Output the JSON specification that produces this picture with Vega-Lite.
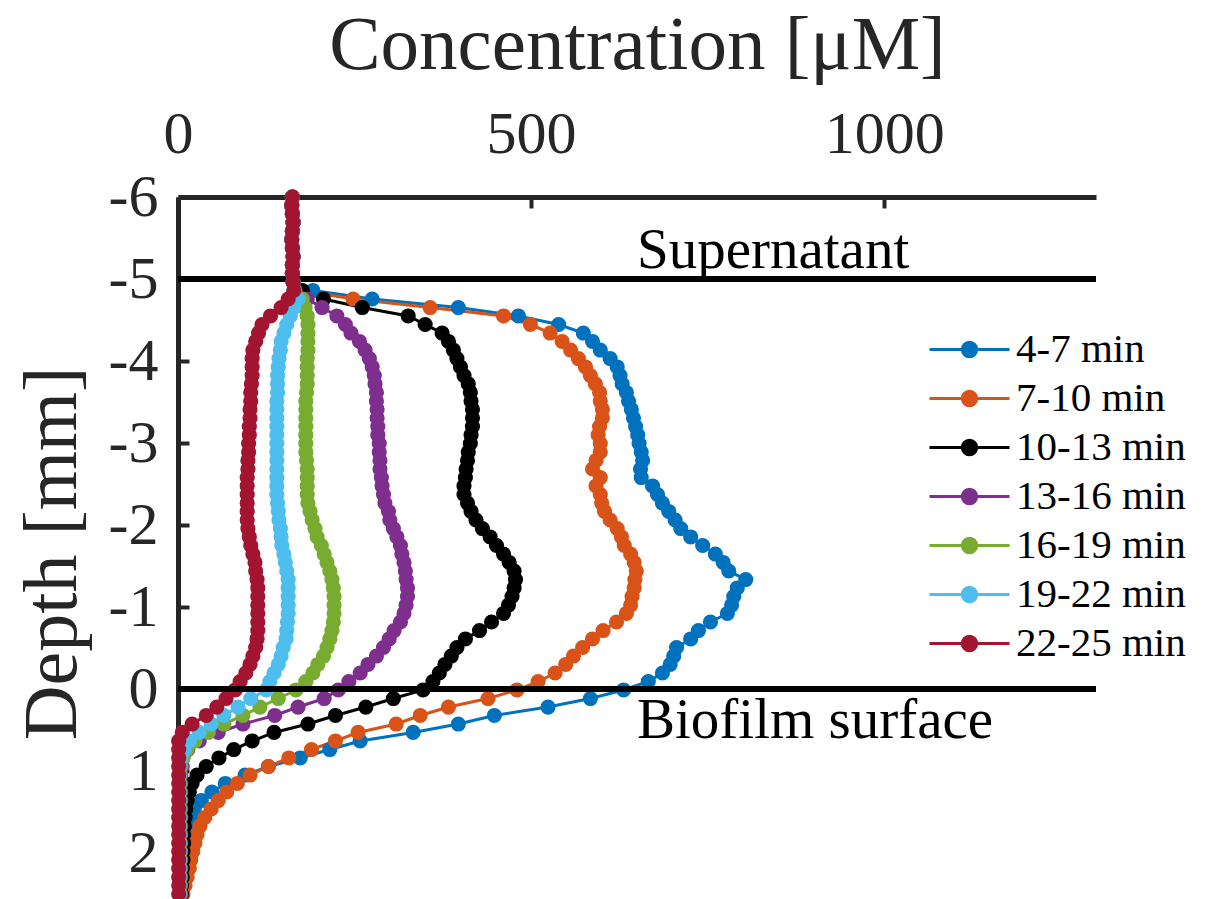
{
  "$schema": "https://vega.github.io/schema/vega-lite/v6.json",
  "width": 918,
  "height": 697,
  "autosize": "none",
  "padding": {"left": 178, "top": 197, "right": 109, "bottom": 5},
  "config": {"view": {"stroke": null}, "font": "Liberation Serif"},
  "data": {"values": [
    {"time":"4-7 min","depth":-6,"conc":162},{"time":"4-7 min","depth":-5.896,"conc":161},{"time":"4-7 min","depth":-5.793,"conc":162},{"time":"4-7 min","depth":-5.689,"conc":163},{"time":"4-7 min","depth":-5.585,"conc":162},{"time":"4-7 min","depth":-5.482,"conc":161},{"time":"4-7 min","depth":-5.378,"conc":162},{"time":"4-7 min","depth":-5.274,"conc":163},{"time":"4-7 min","depth":-5.171,"conc":162},{"time":"4-7 min","depth":-5.067,"conc":162},{"time":"4-7 min","depth":-4.963,"conc":163},{"time":"4-7 min","depth":-4.86,"conc":191},{"time":"4-7 min","depth":-4.756,"conc":275},{"time":"4-7 min","depth":-4.652,"conc":397},{"time":"4-7 min","depth":-4.549,"conc":482},{"time":"4-7 min","depth":-4.445,"conc":539},{"time":"4-7 min","depth":-4.341,"conc":574},{"time":"4-7 min","depth":-4.238,"conc":587},{"time":"4-7 min","depth":-4.134,"conc":598},{"time":"4-7 min","depth":-4.03,"conc":612},{"time":"4-7 min","depth":-3.927,"conc":622},{"time":"4-7 min","depth":-3.823,"conc":626},{"time":"4-7 min","depth":-3.72,"conc":629},{"time":"4-7 min","depth":-3.616,"conc":635},{"time":"4-7 min","depth":-3.512,"conc":638},{"time":"4-7 min","depth":-3.409,"conc":642},{"time":"4-7 min","depth":-3.305,"conc":645},{"time":"4-7 min","depth":-3.201,"conc":648},{"time":"4-7 min","depth":-3.098,"conc":651},{"time":"4-7 min","depth":-2.994,"conc":653},{"time":"4-7 min","depth":-2.89,"conc":656},{"time":"4-7 min","depth":-2.787,"conc":658},{"time":"4-7 min","depth":-2.683,"conc":655},{"time":"4-7 min","depth":-2.579,"conc":656},{"time":"4-7 min","depth":-2.476,"conc":672},{"time":"4-7 min","depth":-2.372,"conc":679},{"time":"4-7 min","depth":-2.268,"conc":686},{"time":"4-7 min","depth":-2.165,"conc":695},{"time":"4-7 min","depth":-2.061,"conc":704},{"time":"4-7 min","depth":-1.957,"conc":712},{"time":"4-7 min","depth":-1.854,"conc":726},{"time":"4-7 min","depth":-1.75,"conc":743},{"time":"4-7 min","depth":-1.646,"conc":761},{"time":"4-7 min","depth":-1.543,"conc":772},{"time":"4-7 min","depth":-1.439,"conc":780},{"time":"4-7 min","depth":-1.335,"conc":804},{"time":"4-7 min","depth":-1.232,"conc":792},{"time":"4-7 min","depth":-1.128,"conc":787},{"time":"4-7 min","depth":-1.024,"conc":784},{"time":"4-7 min","depth":-0.921,"conc":778},{"time":"4-7 min","depth":-0.817,"conc":754},{"time":"4-7 min","depth":-0.713,"conc":737},{"time":"4-7 min","depth":-0.61,"conc":726},{"time":"4-7 min","depth":-0.506,"conc":706},{"time":"4-7 min","depth":-0.402,"conc":702},{"time":"4-7 min","depth":-0.299,"conc":697},{"time":"4-7 min","depth":-0.195,"conc":686},{"time":"4-7 min","depth":-0.091,"conc":666},{"time":"4-7 min","depth":0.012,"conc":631},{"time":"4-7 min","depth":0.116,"conc":584},{"time":"4-7 min","depth":0.22,"conc":524},{"time":"4-7 min","depth":0.323,"conc":448},{"time":"4-7 min","depth":0.427,"conc":397},{"time":"4-7 min","depth":0.53,"conc":333},{"time":"4-7 min","depth":0.634,"conc":258},{"time":"4-7 min","depth":0.738,"conc":215},{"time":"4-7 min","depth":0.841,"conc":173},{"time":"4-7 min","depth":0.945,"conc":128},{"time":"4-7 min","depth":1.049,"conc":95},{"time":"4-7 min","depth":1.152,"conc":67},{"time":"4-7 min","depth":1.256,"conc":48},{"time":"4-7 min","depth":1.36,"conc":33},{"time":"4-7 min","depth":1.463,"conc":23},{"time":"4-7 min","depth":1.567,"conc":18},{"time":"4-7 min","depth":1.671,"conc":16},{"time":"4-7 min","depth":1.774,"conc":14},{"time":"4-7 min","depth":1.878,"conc":13},{"time":"4-7 min","depth":1.982,"conc":11},{"time":"4-7 min","depth":2.085,"conc":10},{"time":"4-7 min","depth":2.189,"conc":9},{"time":"4-7 min","depth":2.293,"conc":8},{"time":"4-7 min","depth":2.396,"conc":7},{"time":"4-7 min","depth":2.5,"conc":6},
    {"time":"7-10 min","depth":-6,"conc":162},{"time":"7-10 min","depth":-5.896,"conc":161},{"time":"7-10 min","depth":-5.793,"conc":162},{"time":"7-10 min","depth":-5.689,"conc":163},{"time":"7-10 min","depth":-5.585,"conc":162},{"time":"7-10 min","depth":-5.482,"conc":161},{"time":"7-10 min","depth":-5.378,"conc":162},{"time":"7-10 min","depth":-5.274,"conc":163},{"time":"7-10 min","depth":-5.171,"conc":162},{"time":"7-10 min","depth":-5.067,"conc":162},{"time":"7-10 min","depth":-4.963,"conc":163},{"time":"7-10 min","depth":-4.86,"conc":173},{"time":"7-10 min","depth":-4.756,"conc":248},{"time":"7-10 min","depth":-4.652,"conc":357},{"time":"7-10 min","depth":-4.549,"conc":461},{"time":"7-10 min","depth":-4.445,"conc":499},{"time":"7-10 min","depth":-4.341,"conc":527},{"time":"7-10 min","depth":-4.238,"conc":544},{"time":"7-10 min","depth":-4.134,"conc":556},{"time":"7-10 min","depth":-4.03,"conc":567},{"time":"7-10 min","depth":-3.927,"conc":577},{"time":"7-10 min","depth":-3.823,"conc":584},{"time":"7-10 min","depth":-3.72,"conc":591},{"time":"7-10 min","depth":-3.616,"conc":597},{"time":"7-10 min","depth":-3.512,"conc":598},{"time":"7-10 min","depth":-3.409,"conc":601},{"time":"7-10 min","depth":-3.305,"conc":601},{"time":"7-10 min","depth":-3.201,"conc":597},{"time":"7-10 min","depth":-3.098,"conc":595},{"time":"7-10 min","depth":-2.994,"conc":598},{"time":"7-10 min","depth":-2.89,"conc":598},{"time":"7-10 min","depth":-2.787,"conc":592},{"time":"7-10 min","depth":-2.683,"conc":587},{"time":"7-10 min","depth":-2.579,"conc":598},{"time":"7-10 min","depth":-2.476,"conc":592},{"time":"7-10 min","depth":-2.372,"conc":598},{"time":"7-10 min","depth":-2.268,"conc":600},{"time":"7-10 min","depth":-2.165,"conc":604},{"time":"7-10 min","depth":-2.061,"conc":612},{"time":"7-10 min","depth":-1.957,"conc":622},{"time":"7-10 min","depth":-1.854,"conc":628},{"time":"7-10 min","depth":-1.75,"conc":632},{"time":"7-10 min","depth":-1.646,"conc":641},{"time":"7-10 min","depth":-1.543,"conc":646},{"time":"7-10 min","depth":-1.439,"conc":649},{"time":"7-10 min","depth":-1.335,"conc":647},{"time":"7-10 min","depth":-1.232,"conc":646},{"time":"7-10 min","depth":-1.128,"conc":643},{"time":"7-10 min","depth":-1.024,"conc":641},{"time":"7-10 min","depth":-0.921,"conc":635},{"time":"7-10 min","depth":-0.817,"conc":621},{"time":"7-10 min","depth":-0.713,"conc":602},{"time":"7-10 min","depth":-0.61,"conc":587},{"time":"7-10 min","depth":-0.506,"conc":573},{"time":"7-10 min","depth":-0.402,"conc":560},{"time":"7-10 min","depth":-0.299,"conc":549},{"time":"7-10 min","depth":-0.195,"conc":534},{"time":"7-10 min","depth":-0.091,"conc":510},{"time":"7-10 min","depth":0.012,"conc":480},{"time":"7-10 min","depth":0.116,"conc":439},{"time":"7-10 min","depth":0.22,"conc":383},{"time":"7-10 min","depth":0.323,"conc":343},{"time":"7-10 min","depth":0.427,"conc":309},{"time":"7-10 min","depth":0.53,"conc":255},{"time":"7-10 min","depth":0.634,"conc":223},{"time":"7-10 min","depth":0.738,"conc":189},{"time":"7-10 min","depth":0.841,"conc":157},{"time":"7-10 min","depth":0.945,"conc":128},{"time":"7-10 min","depth":1.049,"conc":102},{"time":"7-10 min","depth":1.152,"conc":84},{"time":"7-10 min","depth":1.256,"conc":69},{"time":"7-10 min","depth":1.36,"conc":57},{"time":"7-10 min","depth":1.463,"conc":47},{"time":"7-10 min","depth":1.567,"conc":38},{"time":"7-10 min","depth":1.671,"conc":31},{"time":"7-10 min","depth":1.774,"conc":27},{"time":"7-10 min","depth":1.878,"conc":24},{"time":"7-10 min","depth":1.982,"conc":21},{"time":"7-10 min","depth":2.085,"conc":18},{"time":"7-10 min","depth":2.189,"conc":16},{"time":"7-10 min","depth":2.293,"conc":13},{"time":"7-10 min","depth":2.396,"conc":10},{"time":"7-10 min","depth":2.5,"conc":7},
    {"time":"10-13 min","depth":-6,"conc":162},{"time":"10-13 min","depth":-5.896,"conc":161},{"time":"10-13 min","depth":-5.793,"conc":162},{"time":"10-13 min","depth":-5.689,"conc":163},{"time":"10-13 min","depth":-5.585,"conc":162},{"time":"10-13 min","depth":-5.482,"conc":161},{"time":"10-13 min","depth":-5.378,"conc":162},{"time":"10-13 min","depth":-5.274,"conc":163},{"time":"10-13 min","depth":-5.171,"conc":162},{"time":"10-13 min","depth":-5.067,"conc":162},{"time":"10-13 min","depth":-4.963,"conc":163},{"time":"10-13 min","depth":-4.86,"conc":176},{"time":"10-13 min","depth":-4.756,"conc":206},{"time":"10-13 min","depth":-4.652,"conc":261},{"time":"10-13 min","depth":-4.549,"conc":326},{"time":"10-13 min","depth":-4.445,"conc":350},{"time":"10-13 min","depth":-4.341,"conc":374},{"time":"10-13 min","depth":-4.238,"conc":383},{"time":"10-13 min","depth":-4.134,"conc":390},{"time":"10-13 min","depth":-4.03,"conc":395},{"time":"10-13 min","depth":-3.927,"conc":400},{"time":"10-13 min","depth":-3.823,"conc":405},{"time":"10-13 min","depth":-3.72,"conc":411},{"time":"10-13 min","depth":-3.616,"conc":414},{"time":"10-13 min","depth":-3.512,"conc":415},{"time":"10-13 min","depth":-3.409,"conc":417},{"time":"10-13 min","depth":-3.305,"conc":417},{"time":"10-13 min","depth":-3.201,"conc":417},{"time":"10-13 min","depth":-3.098,"conc":415},{"time":"10-13 min","depth":-2.994,"conc":414},{"time":"10-13 min","depth":-2.89,"conc":411},{"time":"10-13 min","depth":-2.787,"conc":410},{"time":"10-13 min","depth":-2.683,"conc":408},{"time":"10-13 min","depth":-2.579,"conc":407},{"time":"10-13 min","depth":-2.476,"conc":405},{"time":"10-13 min","depth":-2.372,"conc":405},{"time":"10-13 min","depth":-2.268,"conc":410},{"time":"10-13 min","depth":-2.165,"conc":415},{"time":"10-13 min","depth":-2.061,"conc":422},{"time":"10-13 min","depth":-1.957,"conc":431},{"time":"10-13 min","depth":-1.854,"conc":442},{"time":"10-13 min","depth":-1.75,"conc":451},{"time":"10-13 min","depth":-1.646,"conc":461},{"time":"10-13 min","depth":-1.543,"conc":469},{"time":"10-13 min","depth":-1.439,"conc":476},{"time":"10-13 min","depth":-1.335,"conc":478},{"time":"10-13 min","depth":-1.232,"conc":476},{"time":"10-13 min","depth":-1.128,"conc":473},{"time":"10-13 min","depth":-1.024,"conc":468},{"time":"10-13 min","depth":-0.921,"conc":461},{"time":"10-13 min","depth":-0.817,"conc":444},{"time":"10-13 min","depth":-0.713,"conc":427},{"time":"10-13 min","depth":-0.61,"conc":407},{"time":"10-13 min","depth":-0.506,"conc":395},{"time":"10-13 min","depth":-0.402,"conc":387},{"time":"10-13 min","depth":-0.299,"conc":378},{"time":"10-13 min","depth":-0.195,"conc":370},{"time":"10-13 min","depth":-0.091,"conc":361},{"time":"10-13 min","depth":0.012,"conc":347},{"time":"10-13 min","depth":0.116,"conc":305},{"time":"10-13 min","depth":0.22,"conc":266},{"time":"10-13 min","depth":0.323,"conc":223},{"time":"10-13 min","depth":0.427,"conc":184},{"time":"10-13 min","depth":0.53,"conc":136},{"time":"10-13 min","depth":0.634,"conc":105},{"time":"10-13 min","depth":0.738,"conc":79},{"time":"10-13 min","depth":0.841,"conc":58},{"time":"10-13 min","depth":0.945,"conc":40},{"time":"10-13 min","depth":1.049,"conc":27},{"time":"10-13 min","depth":1.152,"conc":20},{"time":"10-13 min","depth":1.256,"conc":16},{"time":"10-13 min","depth":1.36,"conc":13},{"time":"10-13 min","depth":1.463,"conc":11},{"time":"10-13 min","depth":1.567,"conc":10},{"time":"10-13 min","depth":1.671,"conc":9},{"time":"10-13 min","depth":1.774,"conc":8},{"time":"10-13 min","depth":1.878,"conc":8},{"time":"10-13 min","depth":1.982,"conc":7},{"time":"10-13 min","depth":2.085,"conc":7},{"time":"10-13 min","depth":2.189,"conc":6},{"time":"10-13 min","depth":2.293,"conc":6},{"time":"10-13 min","depth":2.396,"conc":5},{"time":"10-13 min","depth":2.5,"conc":5},
    {"time":"13-16 min","depth":-6,"conc":162},{"time":"13-16 min","depth":-5.896,"conc":161},{"time":"13-16 min","depth":-5.793,"conc":162},{"time":"13-16 min","depth":-5.689,"conc":163},{"time":"13-16 min","depth":-5.585,"conc":162},{"time":"13-16 min","depth":-5.482,"conc":161},{"time":"13-16 min","depth":-5.378,"conc":162},{"time":"13-16 min","depth":-5.274,"conc":163},{"time":"13-16 min","depth":-5.171,"conc":162},{"time":"13-16 min","depth":-5.067,"conc":162},{"time":"13-16 min","depth":-4.963,"conc":163},{"time":"13-16 min","depth":-4.86,"conc":166},{"time":"13-16 min","depth":-4.756,"conc":183},{"time":"13-16 min","depth":-4.652,"conc":204},{"time":"13-16 min","depth":-4.549,"conc":225},{"time":"13-16 min","depth":-4.445,"conc":237},{"time":"13-16 min","depth":-4.341,"conc":245},{"time":"13-16 min","depth":-4.238,"conc":257},{"time":"13-16 min","depth":-4.134,"conc":265},{"time":"13-16 min","depth":-4.03,"conc":271},{"time":"13-16 min","depth":-3.927,"conc":275},{"time":"13-16 min","depth":-3.823,"conc":278},{"time":"13-16 min","depth":-3.72,"conc":279},{"time":"13-16 min","depth":-3.616,"conc":281},{"time":"13-16 min","depth":-3.512,"conc":281},{"time":"13-16 min","depth":-3.409,"conc":282},{"time":"13-16 min","depth":-3.305,"conc":282},{"time":"13-16 min","depth":-3.201,"conc":283},{"time":"13-16 min","depth":-3.098,"conc":283},{"time":"13-16 min","depth":-2.994,"conc":285},{"time":"13-16 min","depth":-2.89,"conc":285},{"time":"13-16 min","depth":-2.787,"conc":286},{"time":"13-16 min","depth":-2.683,"conc":286},{"time":"13-16 min","depth":-2.579,"conc":288},{"time":"13-16 min","depth":-2.476,"conc":289},{"time":"13-16 min","depth":-2.372,"conc":291},{"time":"13-16 min","depth":-2.268,"conc":293},{"time":"13-16 min","depth":-2.165,"conc":298},{"time":"13-16 min","depth":-2.061,"conc":300},{"time":"13-16 min","depth":-1.957,"conc":305},{"time":"13-16 min","depth":-1.854,"conc":310},{"time":"13-16 min","depth":-1.75,"conc":315},{"time":"13-16 min","depth":-1.646,"conc":317},{"time":"13-16 min","depth":-1.543,"conc":320},{"time":"13-16 min","depth":-1.439,"conc":322},{"time":"13-16 min","depth":-1.335,"conc":323},{"time":"13-16 min","depth":-1.232,"conc":325},{"time":"13-16 min","depth":-1.128,"conc":325},{"time":"13-16 min","depth":-1.024,"conc":323},{"time":"13-16 min","depth":-0.921,"conc":320},{"time":"13-16 min","depth":-0.817,"conc":315},{"time":"13-16 min","depth":-0.713,"conc":306},{"time":"13-16 min","depth":-0.61,"conc":299},{"time":"13-16 min","depth":-0.506,"conc":291},{"time":"13-16 min","depth":-0.402,"conc":281},{"time":"13-16 min","depth":-0.299,"conc":269},{"time":"13-16 min","depth":-0.195,"conc":258},{"time":"13-16 min","depth":-0.091,"conc":242},{"time":"13-16 min","depth":0.012,"conc":227},{"time":"13-16 min","depth":0.116,"conc":207},{"time":"13-16 min","depth":0.22,"conc":170},{"time":"13-16 min","depth":0.323,"conc":137},{"time":"13-16 min","depth":0.427,"conc":92},{"time":"13-16 min","depth":0.53,"conc":57},{"time":"13-16 min","depth":0.634,"conc":30},{"time":"13-16 min","depth":0.738,"conc":14},{"time":"13-16 min","depth":0.841,"conc":7},{"time":"13-16 min","depth":0.945,"conc":6},{"time":"13-16 min","depth":1.049,"conc":4},{"time":"13-16 min","depth":1.152,"conc":4},{"time":"13-16 min","depth":1.256,"conc":4},{"time":"13-16 min","depth":1.36,"conc":4},{"time":"13-16 min","depth":1.463,"conc":4},{"time":"13-16 min","depth":1.567,"conc":4},{"time":"13-16 min","depth":1.671,"conc":4},{"time":"13-16 min","depth":1.774,"conc":4},{"time":"13-16 min","depth":1.878,"conc":4},{"time":"13-16 min","depth":1.982,"conc":4},{"time":"13-16 min","depth":2.085,"conc":4},{"time":"13-16 min","depth":2.189,"conc":4},{"time":"13-16 min","depth":2.293,"conc":4},{"time":"13-16 min","depth":2.396,"conc":4},{"time":"13-16 min","depth":2.5,"conc":4},
    {"time":"16-19 min","depth":-6,"conc":162},{"time":"16-19 min","depth":-5.896,"conc":161},{"time":"16-19 min","depth":-5.793,"conc":162},{"time":"16-19 min","depth":-5.689,"conc":163},{"time":"16-19 min","depth":-5.585,"conc":162},{"time":"16-19 min","depth":-5.482,"conc":161},{"time":"16-19 min","depth":-5.378,"conc":162},{"time":"16-19 min","depth":-5.274,"conc":163},{"time":"16-19 min","depth":-5.171,"conc":162},{"time":"16-19 min","depth":-5.067,"conc":162},{"time":"16-19 min","depth":-4.963,"conc":163},{"time":"16-19 min","depth":-4.86,"conc":165},{"time":"16-19 min","depth":-4.756,"conc":176},{"time":"16-19 min","depth":-4.652,"conc":180},{"time":"16-19 min","depth":-4.549,"conc":183},{"time":"16-19 min","depth":-4.445,"conc":184},{"time":"16-19 min","depth":-4.341,"conc":184},{"time":"16-19 min","depth":-4.238,"conc":184},{"time":"16-19 min","depth":-4.134,"conc":184},{"time":"16-19 min","depth":-4.03,"conc":183},{"time":"16-19 min","depth":-3.927,"conc":183},{"time":"16-19 min","depth":-3.823,"conc":183},{"time":"16-19 min","depth":-3.72,"conc":183},{"time":"16-19 min","depth":-3.616,"conc":182},{"time":"16-19 min","depth":-3.512,"conc":181},{"time":"16-19 min","depth":-3.409,"conc":181},{"time":"16-19 min","depth":-3.305,"conc":181},{"time":"16-19 min","depth":-3.201,"conc":181},{"time":"16-19 min","depth":-3.098,"conc":181},{"time":"16-19 min","depth":-2.994,"conc":181},{"time":"16-19 min","depth":-2.89,"conc":181},{"time":"16-19 min","depth":-2.787,"conc":182},{"time":"16-19 min","depth":-2.683,"conc":183},{"time":"16-19 min","depth":-2.579,"conc":183},{"time":"16-19 min","depth":-2.476,"conc":183},{"time":"16-19 min","depth":-2.372,"conc":183},{"time":"16-19 min","depth":-2.268,"conc":184},{"time":"16-19 min","depth":-2.165,"conc":187},{"time":"16-19 min","depth":-2.061,"conc":190},{"time":"16-19 min","depth":-1.957,"conc":194},{"time":"16-19 min","depth":-1.854,"conc":197},{"time":"16-19 min","depth":-1.75,"conc":203},{"time":"16-19 min","depth":-1.646,"conc":207},{"time":"16-19 min","depth":-1.543,"conc":211},{"time":"16-19 min","depth":-1.439,"conc":215},{"time":"16-19 min","depth":-1.335,"conc":218},{"time":"16-19 min","depth":-1.232,"conc":220},{"time":"16-19 min","depth":-1.128,"conc":221},{"time":"16-19 min","depth":-1.024,"conc":221},{"time":"16-19 min","depth":-0.921,"conc":221},{"time":"16-19 min","depth":-0.817,"conc":220},{"time":"16-19 min","depth":-0.713,"conc":218},{"time":"16-19 min","depth":-0.61,"conc":215},{"time":"16-19 min","depth":-0.506,"conc":211},{"time":"16-19 min","depth":-0.402,"conc":206},{"time":"16-19 min","depth":-0.299,"conc":198},{"time":"16-19 min","depth":-0.195,"conc":191},{"time":"16-19 min","depth":-0.091,"conc":181},{"time":"16-19 min","depth":0.012,"conc":167},{"time":"16-19 min","depth":0.116,"conc":142},{"time":"16-19 min","depth":0.22,"conc":116},{"time":"16-19 min","depth":0.323,"conc":92},{"time":"16-19 min","depth":0.427,"conc":65},{"time":"16-19 min","depth":0.53,"conc":43},{"time":"16-19 min","depth":0.634,"conc":24},{"time":"16-19 min","depth":0.738,"conc":13},{"time":"16-19 min","depth":0.841,"conc":7},{"time":"16-19 min","depth":0.945,"conc":4},{"time":"16-19 min","depth":1.049,"conc":3},{"time":"16-19 min","depth":1.152,"conc":3},{"time":"16-19 min","depth":1.256,"conc":3},{"time":"16-19 min","depth":1.36,"conc":3},{"time":"16-19 min","depth":1.463,"conc":3},{"time":"16-19 min","depth":1.567,"conc":3},{"time":"16-19 min","depth":1.671,"conc":3},{"time":"16-19 min","depth":1.774,"conc":3},{"time":"16-19 min","depth":1.878,"conc":3},{"time":"16-19 min","depth":1.982,"conc":3},{"time":"16-19 min","depth":2.085,"conc":3},{"time":"16-19 min","depth":2.189,"conc":3},{"time":"16-19 min","depth":2.293,"conc":3},{"time":"16-19 min","depth":2.396,"conc":3},{"time":"16-19 min","depth":2.5,"conc":3},
    {"time":"19-22 min","depth":-6,"conc":162},{"time":"19-22 min","depth":-5.896,"conc":161},{"time":"19-22 min","depth":-5.793,"conc":162},{"time":"19-22 min","depth":-5.689,"conc":163},{"time":"19-22 min","depth":-5.585,"conc":162},{"time":"19-22 min","depth":-5.482,"conc":161},{"time":"19-22 min","depth":-5.378,"conc":162},{"time":"19-22 min","depth":-5.274,"conc":163},{"time":"19-22 min","depth":-5.171,"conc":162},{"time":"19-22 min","depth":-5.067,"conc":162},{"time":"19-22 min","depth":-4.963,"conc":163},{"time":"19-22 min","depth":-4.86,"conc":164},{"time":"19-22 min","depth":-4.756,"conc":170},{"time":"19-22 min","depth":-4.652,"conc":164},{"time":"19-22 min","depth":-4.549,"conc":159},{"time":"19-22 min","depth":-4.445,"conc":154},{"time":"19-22 min","depth":-4.341,"conc":150},{"time":"19-22 min","depth":-4.238,"conc":146},{"time":"19-22 min","depth":-4.134,"conc":145},{"time":"19-22 min","depth":-4.03,"conc":143},{"time":"19-22 min","depth":-3.927,"conc":142},{"time":"19-22 min","depth":-3.823,"conc":141},{"time":"19-22 min","depth":-3.72,"conc":141},{"time":"19-22 min","depth":-3.616,"conc":141},{"time":"19-22 min","depth":-3.512,"conc":140},{"time":"19-22 min","depth":-3.409,"conc":140},{"time":"19-22 min","depth":-3.305,"conc":140},{"time":"19-22 min","depth":-3.201,"conc":140},{"time":"19-22 min","depth":-3.098,"conc":140},{"time":"19-22 min","depth":-2.994,"conc":140},{"time":"19-22 min","depth":-2.89,"conc":140},{"time":"19-22 min","depth":-2.787,"conc":140},{"time":"19-22 min","depth":-2.683,"conc":140},{"time":"19-22 min","depth":-2.579,"conc":140},{"time":"19-22 min","depth":-2.476,"conc":140},{"time":"19-22 min","depth":-2.372,"conc":140},{"time":"19-22 min","depth":-2.268,"conc":141},{"time":"19-22 min","depth":-2.165,"conc":142},{"time":"19-22 min","depth":-2.061,"conc":143},{"time":"19-22 min","depth":-1.957,"conc":145},{"time":"19-22 min","depth":-1.854,"conc":146},{"time":"19-22 min","depth":-1.75,"conc":147},{"time":"19-22 min","depth":-1.646,"conc":150},{"time":"19-22 min","depth":-1.543,"conc":152},{"time":"19-22 min","depth":-1.439,"conc":154},{"time":"19-22 min","depth":-1.335,"conc":156},{"time":"19-22 min","depth":-1.232,"conc":156},{"time":"19-22 min","depth":-1.128,"conc":156},{"time":"19-22 min","depth":-1.024,"conc":156},{"time":"19-22 min","depth":-0.921,"conc":156},{"time":"19-22 min","depth":-0.817,"conc":155},{"time":"19-22 min","depth":-0.713,"conc":154},{"time":"19-22 min","depth":-0.61,"conc":153},{"time":"19-22 min","depth":-0.506,"conc":149},{"time":"19-22 min","depth":-0.402,"conc":146},{"time":"19-22 min","depth":-0.299,"conc":142},{"time":"19-22 min","depth":-0.195,"conc":136},{"time":"19-22 min","depth":-0.091,"conc":130},{"time":"19-22 min","depth":0.012,"conc":125},{"time":"19-22 min","depth":0.116,"conc":103},{"time":"19-22 min","depth":0.22,"conc":85},{"time":"19-22 min","depth":0.323,"conc":65},{"time":"19-22 min","depth":0.427,"conc":47},{"time":"19-22 min","depth":0.53,"conc":30},{"time":"19-22 min","depth":0.634,"conc":16},{"time":"19-22 min","depth":0.738,"conc":9},{"time":"19-22 min","depth":0.841,"conc":4},{"time":"19-22 min","depth":0.945,"conc":2},{"time":"19-22 min","depth":1.049,"conc":2},{"time":"19-22 min","depth":1.152,"conc":2},{"time":"19-22 min","depth":1.256,"conc":2},{"time":"19-22 min","depth":1.36,"conc":2},{"time":"19-22 min","depth":1.463,"conc":2},{"time":"19-22 min","depth":1.567,"conc":2},{"time":"19-22 min","depth":1.671,"conc":2},{"time":"19-22 min","depth":1.774,"conc":2},{"time":"19-22 min","depth":1.878,"conc":2},{"time":"19-22 min","depth":1.982,"conc":2},{"time":"19-22 min","depth":2.085,"conc":2},{"time":"19-22 min","depth":2.189,"conc":2},{"time":"19-22 min","depth":2.293,"conc":2},{"time":"19-22 min","depth":2.396,"conc":2},{"time":"19-22 min","depth":2.5,"conc":2},
    {"time":"22-25 min","depth":-6,"conc":162},{"time":"22-25 min","depth":-5.896,"conc":161},{"time":"22-25 min","depth":-5.793,"conc":162},{"time":"22-25 min","depth":-5.689,"conc":163},{"time":"22-25 min","depth":-5.585,"conc":162},{"time":"22-25 min","depth":-5.482,"conc":161},{"time":"22-25 min","depth":-5.378,"conc":162},{"time":"22-25 min","depth":-5.274,"conc":163},{"time":"22-25 min","depth":-5.171,"conc":162},{"time":"22-25 min","depth":-5.067,"conc":162},{"time":"22-25 min","depth":-4.963,"conc":163},{"time":"22-25 min","depth":-4.86,"conc":164},{"time":"22-25 min","depth":-4.756,"conc":156},{"time":"22-25 min","depth":-4.652,"conc":146},{"time":"22-25 min","depth":-4.549,"conc":131},{"time":"22-25 min","depth":-4.445,"conc":119},{"time":"22-25 min","depth":-4.341,"conc":114},{"time":"22-25 min","depth":-4.238,"conc":110},{"time":"22-25 min","depth":-4.134,"conc":106},{"time":"22-25 min","depth":-4.03,"conc":105},{"time":"22-25 min","depth":-3.927,"conc":105},{"time":"22-25 min","depth":-3.823,"conc":105},{"time":"22-25 min","depth":-3.72,"conc":104},{"time":"22-25 min","depth":-3.616,"conc":103},{"time":"22-25 min","depth":-3.512,"conc":103},{"time":"22-25 min","depth":-3.409,"conc":102},{"time":"22-25 min","depth":-3.305,"conc":102},{"time":"22-25 min","depth":-3.201,"conc":101},{"time":"22-25 min","depth":-3.098,"conc":101},{"time":"22-25 min","depth":-2.994,"conc":100},{"time":"22-25 min","depth":-2.89,"conc":100},{"time":"22-25 min","depth":-2.787,"conc":99},{"time":"22-25 min","depth":-2.683,"conc":99},{"time":"22-25 min","depth":-2.579,"conc":98},{"time":"22-25 min","depth":-2.476,"conc":98},{"time":"22-25 min","depth":-2.372,"conc":98},{"time":"22-25 min","depth":-2.268,"conc":98},{"time":"22-25 min","depth":-2.165,"conc":98},{"time":"22-25 min","depth":-2.061,"conc":98},{"time":"22-25 min","depth":-1.957,"conc":99},{"time":"22-25 min","depth":-1.854,"conc":101},{"time":"22-25 min","depth":-1.75,"conc":103},{"time":"22-25 min","depth":-1.646,"conc":106},{"time":"22-25 min","depth":-1.543,"conc":109},{"time":"22-25 min","depth":-1.439,"conc":110},{"time":"22-25 min","depth":-1.335,"conc":112},{"time":"22-25 min","depth":-1.232,"conc":113},{"time":"22-25 min","depth":-1.128,"conc":113},{"time":"22-25 min","depth":-1.024,"conc":113},{"time":"22-25 min","depth":-0.921,"conc":113},{"time":"22-25 min","depth":-0.817,"conc":113},{"time":"22-25 min","depth":-0.713,"conc":113},{"time":"22-25 min","depth":-0.61,"conc":112},{"time":"22-25 min","depth":-0.506,"conc":110},{"time":"22-25 min","depth":-0.402,"conc":106},{"time":"22-25 min","depth":-0.299,"conc":102},{"time":"22-25 min","depth":-0.195,"conc":96},{"time":"22-25 min","depth":-0.091,"conc":88},{"time":"22-25 min","depth":0.012,"conc":81},{"time":"22-25 min","depth":0.116,"conc":68},{"time":"22-25 min","depth":0.22,"conc":55},{"time":"22-25 min","depth":0.323,"conc":40},{"time":"22-25 min","depth":0.427,"conc":20},{"time":"22-25 min","depth":0.53,"conc":6},{"time":"22-25 min","depth":0.634,"conc":1},{"time":"22-25 min","depth":0.738,"conc":1},{"time":"22-25 min","depth":0.841,"conc":1},{"time":"22-25 min","depth":0.945,"conc":1},{"time":"22-25 min","depth":1.049,"conc":1},{"time":"22-25 min","depth":1.152,"conc":1},{"time":"22-25 min","depth":1.256,"conc":1},{"time":"22-25 min","depth":1.36,"conc":1},{"time":"22-25 min","depth":1.463,"conc":1},{"time":"22-25 min","depth":1.567,"conc":1},{"time":"22-25 min","depth":1.671,"conc":1},{"time":"22-25 min","depth":1.774,"conc":1},{"time":"22-25 min","depth":1.878,"conc":1},{"time":"22-25 min","depth":1.982,"conc":1},{"time":"22-25 min","depth":2.085,"conc":1},{"time":"22-25 min","depth":2.189,"conc":1},{"time":"22-25 min","depth":2.293,"conc":1},{"time":"22-25 min","depth":2.396,"conc":1},{"time":"22-25 min","depth":2.5,"conc":1}
  ]},
  "layer": [
    {
      "mark": {"type": "rule", "color": "black", "strokeWidth": 5},
      "encoding": {
        "y": {"datum": -5, "type": "quantitative", "scale": {"domain": [-6, 2.5], "reverse": true, "nice": false}}
      }
    },
    {
      "mark": {"type": "line", "strokeWidth": 3},
      "encoding": {
        "x": {
          "field": "conc", "type": "quantitative",
          "scale": {"domain": [0, 1300], "nice": false},
          "axis": {
            "orient": "top", "values": [0, 500, 1000], "format": "d", "grid": false,
            "title": "Concentration [μM]", "titleFont": "Liberation Serif", "titleFontSize": 77, "titleFontWeight": "normal", "titleColor": "#262626",
            "titleY": -129, "titleBaseline": "alphabetic",
            "domainColor": "#262626", "domainWidth": 5,
            "tickColor": "#262626", "tickWidth": 4, "tickSize": -11,
            "labelFont": "Liberation Serif", "labelFontSize": 60, "labelColor": "#262626", "labelBaseline": "alphabetic",
            "labelPadding": 56, "labelFlush": false, "labelOverlap": false
          }
        },
        "y": {
          "field": "depth", "type": "quantitative",
          "scale": {"domain": [-6, 2.5], "reverse": true, "nice": false},
          "axis": {
            "values": [-6, -5, -4, -3, -2, -1, 0, 1, 2], "grid": false,
            "labelExpr": "datum.value < 0 ? '-' + abs(datum.value) : '' + datum.value",
            "title": "Depth [mm]", "titleFont": "Liberation Serif", "titleFontSize": 76, "titleFontWeight": "normal", "titleColor": "#262626",
            "titleAngle": 270, "titleX": -103, "titleY": 356, "titleBaseline": "alphabetic", "titleAlign": "center",
            "domainColor": "#262626", "domainWidth": 5,
            "tickColor": "#262626", "tickWidth": 4, "tickSize": -11,
            "labelFont": "Liberation Serif", "labelFontSize": 60, "labelColor": "#262626", "labelBaseline": "middle",
            "labelPadding": 31, "labelFlush": false, "labelOverlap": false
          }
        },
        "color": {
          "field": "time", "type": "nominal",
          "scale": {"domain": ["4-7 min", "7-10 min", "10-13 min", "13-16 min", "16-19 min", "19-22 min", "22-25 min"], "range": ["#0072BD", "#D95319", "#000000", "#7E2F8E", "#77AC30", "#4DBEEE", "#A2142F"]},
          "legend": {
            "orient": "none", "legendX": 750, "legendY": 128, "title": null, "padding": 0,
            "symbolType": "M-1,0L1,0M-0.18,0A0.18,0.18,0,1,1,0.18,0A0.18,0.18,0,1,1,-0.18,0Z",
            "symbolSize": 6400, "symbolStrokeWidth": 3, "clipHeight": 49,
            "labelFont": "Liberation Serif", "labelFontSize": 41, "labelColor": "black", "labelOffset": 5, "labelLimit": 0,
            "rowPadding": 0,
            "encode": {"symbols": {"update": {"fill": {"scale": "color", "field": "value"}, "stroke": {"scale": "color", "field": "value"}, "opacity": {"value": 1}}}}
          }
        },
        "order": {"field": "depth", "type": "quantitative"}
      }
    },
    {
      "mark": {"type": "point", "filled": true, "size": 230, "opacity": 1},
      "encoding": {
        "x": {"field": "conc", "type": "quantitative", "scale": {"domain": [0, 1300], "nice": false}},
        "y": {"field": "depth", "type": "quantitative", "scale": {"domain": [-6, 2.5], "reverse": true, "nice": false}},
        "color": {
          "field": "time", "type": "nominal",
          "scale": {"domain": ["4-7 min", "7-10 min", "10-13 min", "13-16 min", "16-19 min", "19-22 min", "22-25 min"], "range": ["#0072BD", "#D95319", "#000000", "#7E2F8E", "#77AC30", "#4DBEEE", "#A2142F"]}
        }
      }
    },
    {
      "mark": {"type": "rule", "color": "black", "strokeWidth": 5},
      "encoding": {
        "y": {"datum": 0, "type": "quantitative", "scale": {"domain": [-6, 2.5], "reverse": true, "nice": false}}
      }
    },
    {
      "data": {"values": [
        {"label": "Supernatant", "conc": 650, "depth": -5.13},
        {"label": "Biofilm surface", "conc": 650, "depth": 0.6}
      ]},
      "mark": {"type": "text", "align": "left", "baseline": "alphabetic", "font": "Liberation Serif", "fontSize": 57, "color": "black"},
      "encoding": {
        "x": {"field": "conc", "type": "quantitative", "scale": {"domain": [0, 1300], "nice": false}},
        "y": {"field": "depth", "type": "quantitative", "scale": {"domain": [-6, 2.5], "reverse": true, "nice": false}},
        "text": {"field": "label"}
      }
    }
  ]
}
